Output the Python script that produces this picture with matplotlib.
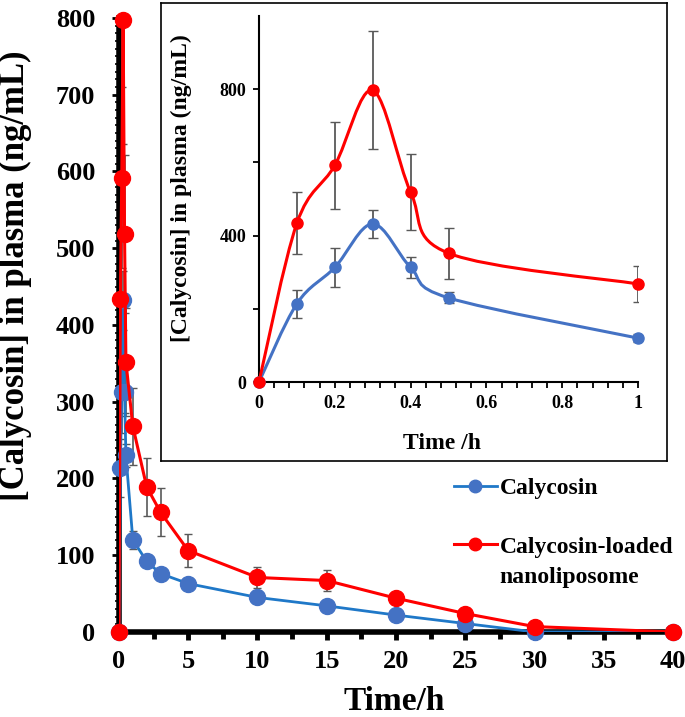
import numpy as np
import matplotlib
matplotlib.use("Agg")
import matplotlib.pyplot as plt
from matplotlib.path import Path
from matplotlib.patches import PathPatch
from matplotlib.lines import Line2D
from matplotlib.ticker import MultipleLocator

plt.rcParams['font.family'] = ['Liberation Serif', 'DejaVu Serif']
plt.rcParams['font.weight'] = 'bold'
plt.rcParams['axes.labelweight'] = 'bold'

# sampling times (h)
time = [0, 0.1, 0.2, 0.3, 0.4, 0.5, 1, 2, 3, 5, 10, 15, 20, 25, 30, 40]
# free calycosin (ng/mL) and SD
calycosin = [0, 214, 313, 432, 313, 230, 120, 92, 76, 63, 45, 34, 22, 11, 0, 0]
calycosin_sd = [0, 38, 54, 38, 28, 15, 12, 8, 0, 0, 0, 0, 0, 0, 0, 0]
# calycosin-loaded nanoliposome (ng/mL) and SD
nano = [0, 434, 592, 797, 519, 352, 268, 189, 156, 106, 71, 67, 44, 24, 7, 0]
nano_sd = [0, 85, 118, 161, 103, 70, 50, 38, 31, 21, 14, 14, 0, 0, 0, 0]

label_cal = 'Calycosin'
label_nano = 'Calycosin-loaded\nnanoliposome'

blue_line = '#1f78c8'
blue_mark = '#4472c4'
red = '#ff0000'
err_col = '#595959'


def smooth_curve(ax, x, y, color, lw):
    # Excel-like smoothed line (Catmull-Rom as cubic Bezier)
    n = len(x)
    verts = [(x[0], y[0])]
    codes = [Path.MOVETO]
    for i in range(n - 1):
        a = max(i - 1, 0)
        d = min(i + 2, n - 1)
        c1 = (x[i] + (x[i + 1] - x[a]) / 6, y[i] + (y[i + 1] - y[a]) / 6)
        c2 = (x[i + 1] - (x[d] - x[i]) / 6, y[i + 1] - (y[d] - y[i]) / 6)
        verts += [c1, c2, (x[i + 1], y[i + 1])]
        codes += [Path.CURVE4] * 3
    ax.add_patch(PathPatch(Path(verts, codes), facecolor='none',
                           edgecolor=color, lw=lw, zorder=3))


fig = plt.figure(figsize=(6.85, 7.17), dpi=100)

# ---- main axes ----
ax = fig.add_axes([0.1737, 0.1186, 0.8088, 0.8563])
ax.errorbar(time, calycosin, yerr=calycosin_sd, fmt='none', ecolor=err_col,
            elinewidth=1.2, capsize=3, zorder=2)
ax.errorbar(time, nano, yerr=nano_sd, fmt='none', ecolor=err_col,
            elinewidth=1.2, capsize=3, zorder=2)
ax.plot(time, calycosin, '-', color=blue_line, lw=2, zorder=3)
ax.plot(time, calycosin, 'o', color=blue_mark, ms=11.5, zorder=4, clip_on=False)
ax.plot(time, nano, '-', color=red, lw=2.2, zorder=5)
ax.plot(time, nano, 'o', color=red, ms=11.5, zorder=6, clip_on=False)

ax.set_xlim(0, 40)
ax.set_ylim(0, 800)
ax.xaxis.set_major_locator(MultipleLocator(5))
ax.xaxis.set_minor_locator(MultipleLocator(2.5))
ax.yaxis.set_major_locator(MultipleLocator(100))
ax.yaxis.set_minor_locator(MultipleLocator(10))
for s in ['top', 'right']:
    ax.spines[s].set_visible(False)
for s in ['left', 'bottom']:
    ax.spines[s].set_linewidth(4)
ax.tick_params(axis='x', which='major', direction='out', length=6, width=3.5,
               labelsize=19, pad=7)
ax.tick_params(axis='x', which='minor', direction='out', length=5, width=3.5)
ax.tick_params(axis='y', which='major', direction='out', length=5, width=2,
               labelsize=19, pad=12)
ax.tick_params(axis='y', which='minor', direction='out', length=3, width=1.2)
ax.set_xlabel('Time/h', fontsize=24, fontweight='bold')
ax.xaxis.set_label_coords(0.497, -0.088)
ax.set_ylabel('[Calycosin] in plasma (ng/mL)', fontsize=25, fontweight='bold')
ax.yaxis.set_label_coords(-0.157, 0.58)

# legend: handle sits next to the first line of each label
h_cal = Line2D([], [], color=blue_line, lw=2, marker='o', ms=9,
               markerfacecolor=blue_mark, markeredgecolor=blue_mark)
h_nano = Line2D([], [], color=red, lw=2.2, marker='o', ms=9)
nano_first, nano_rest = label_nano.split('\n')
leg = ax.legend([h_cal, h_nano], [label_cal, nano_first],
                loc='upper left', bbox_to_anchor=(0.645, 0.350),
                bbox_transform=fig.transFigure, frameon=False,
                prop={'size': 17, 'weight': 'bold'},
                handlelength=1.85, handletextpad=0.1, labelspacing=1.55,
                borderpad=0)

# ---- inset frame ----
box = fig.add_axes([0.235, 0.357, 0.7387, 0.6388])
box.set_xticks([])
box.set_yticks([])
box.set_facecolor('white')
for s in box.spines.values():
    s.set_linewidth(1.2)

# ---- inset axes ----
ins = fig.add_axes([0.3781, 0.4672, 0.5533, 0.5105])
ins.set_facecolor('none')
t_in = [t for t in time if t <= 1]
k = len(t_in)
ins.errorbar(t_in, calycosin[:k], yerr=calycosin_sd[:k], fmt='none',
             ecolor=err_col, elinewidth=1.3, capsize=3.5, zorder=2)
ins.errorbar(t_in, nano[:k], yerr=nano_sd[:k], fmt='none',
             ecolor=err_col, elinewidth=1.3, capsize=3.5, zorder=2)
smooth_curve(ins, t_in, calycosin[:k], blue_mark, 2.2)
smooth_curve(ins, t_in, nano[:k], red, 2.2)
ins.plot(t_in, calycosin[:k], 'o', color=blue_mark, ms=8, zorder=4, clip_on=False)
ins.plot(t_in, nano[:k], 'o', color=red, ms=8, zorder=5, clip_on=False)

ins.set_xlim(0, 1)
ins.set_ylim(0, 1000)
ins.set_xticks([0, 0.2, 0.4, 0.6, 0.8, 1.0])
ins.set_xticklabels(['0', '0.2', '0.4', '0.6', '0.8', '1'])
ins.xaxis.set_minor_locator(MultipleLocator(0.04))
ins.set_yticks([0, 200, 400, 600, 800])
ins.set_yticklabels(['0', '', '400', '', '800'])
for s in ['top', 'right']:
    ins.spines[s].set_visible(False)
for s in ['left', 'bottom']:
    ins.spines[s].set_linewidth(1.5)
ins.tick_params(axis='both', which='major', direction='out', length=4,
                width=1.3, labelsize=13, pad=5)
ins.tick_params(axis='x', which='minor', direction='out', length=4, width=1.3)
ins.set_xlabel('Time /h', fontsize=17, fontweight='bold')
ins.xaxis.set_label_coords(0.483, -0.139)
ins.set_ylabel('[Calycosin] in plasma (ng/mL)', fontsize=17, fontweight='bold')
ins.yaxis.set_label_coords(-0.177, 0.53)

# second line of the nanoliposome label, under the first
fig.canvas.draw()
bb = leg.get_texts()[1].get_window_extent()
fig.text(bb.x0, bb.y0 - 9, nano_rest, fontsize=17, fontweight='bold',
         ha='left', va='top', transform=None)

fig.savefig('out.png', dpi=100)
